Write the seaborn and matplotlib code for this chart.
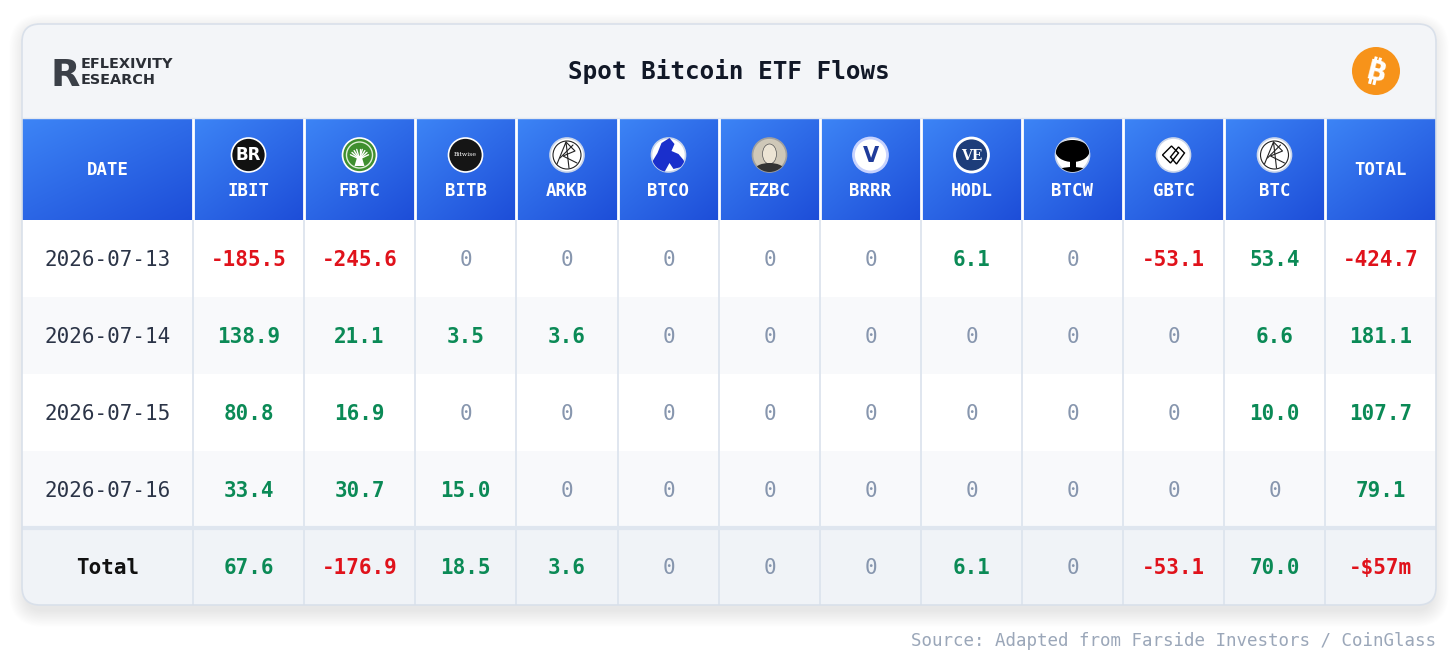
import numpy as np
import matplotlib
matplotlib.use("Agg")
import matplotlib.pyplot as plt
import seaborn as sns
from matplotlib.colors import ListedColormap, to_rgb
from matplotlib.patches import FancyBboxPatch, Circle, Rectangle, Polygon, Ellipse

# ---- data (US$ m) ----
dates = ["2026-07-13", "2026-07-14", "2026-07-15", "2026-07-16"]
tickers = ["IBIT", "FBTC", "BITB", "ARKB", "BTCO", "EZBC", "BRRR", "HODL", "BTCW", "GBTC", "BTC"]
ibit = [-185.5, 138.9, 80.8, 33.4]
fbtc = [-245.6, 21.1, 16.9, 30.7]
bitb = [0, 3.5, 0, 15.0]
arkb = [0, 3.6, 0, 0]
btco = [0, 0, 0, 0]
ezbc = [0, 0, 0, 0]
brrr = [0, 0, 0, 0]
hodl = [6.1, 0, 0, 0]
btcw = [0, 0, 0, 0]
gbtc = [-53.1, 0, 0, 0]
btc = [53.4, 6.6, 10.0, 0]
daily_total = [-424.7, 181.1, 107.7, 79.1]
ticker_total = [67.6, -176.9, 18.5, 3.6, 0, 0, 0, 6.1, 0, -53.1, 70.0]
grand_total = -57
grand_total_label = "-$57m"

title = "Spot Bitcoin ETF Flows"
source = "Source: Adapted from Farside Investors / CoinGlass"

flows = [ibit, fbtc, bitb, arkb, btco, ezbc, brrr, hodl, btcw, gbtc, btc]

# ---- layout (pixels) ----
W, H = 1456, 667
col_edges = [22, 193, 304, 415, 516, 618, 719, 820, 921, 1022, 1123, 1224, 1325, 1436]
card_x0, card_y0, card_x1, card_y1 = 22, 24, 1436, 605
head_top, head_bot = 118, 220
n_rows = len(dates) + 1
row_h = (card_y1 - head_bot) / n_rows

GREEN, RED, ZERO = "#0b8a56", "#e0121b", "#8796ae"
MONO = ["DejaVu Sans Mono", "DejaVu Sans"]

sns.set_theme(style="white")
plt.rcParams["font.family"] = MONO


def pixel_axes(ax):
    ax.set_xlim(0, W)
    ax.set_ylim(H, 0)
    ax.axis("off")


def val_style(v):
    if v == 0:
        return "0", ZERO, "normal"
    return f"{v:.1f}", (GREEN if v > 0 else RED), "bold"


def card_box(**kw):
    return FancyBboxPatch((card_x0, card_y0), card_x1 - card_x0, card_y1 - card_y0,
                          boxstyle="round,pad=0,rounding_size=18", **kw)


fig = plt.figure(figsize=(W / 100, H / 100), dpi=100)
fig.patch.set_facecolor("white")

# background: soft shadow, card, blue header band
bg = fig.add_axes([0, 0, 1, 1])
pixel_axes(bg)
for pad in np.linspace(16, 0, 24):
    bg.add_patch(FancyBboxPatch((card_x0 + 3, card_y0 + 6), card_x1 - card_x0 - 6, card_y1 - card_y0,
                                boxstyle=f"round,pad={pad},rounding_size={18 + pad}",
                                fc="#334155", ec="none", alpha=0.004))
bg.add_patch(card_box(fc="#f3f5f8", ec="none", zorder=2))

edges = np.array(col_edges)
xs = np.arange(card_x0, card_x1) + 0.5
ys = np.arange(head_top, head_bot) + 0.5
X, Y = np.meshgrid(xs, ys)
idx = np.clip(np.searchsorted(edges, X, side="right") - 1, 0, len(edges) - 2)
u = (X - edges[idx]) / (edges[idx + 1] - edges[idx])
v = (Y - head_top) / (head_bot - head_top)
t = np.clip(u * 0.45 + v * 0.55, 0, 1)
c1, c2 = np.array(to_rgb("#3d85f6")), np.array(to_rgb("#1d4dd8"))
img = c1 + (c2 - c1) * t[..., None]
bg.imshow(img, extent=(card_x0, card_x1, head_bot, head_top), origin="upper",
          aspect="auto", interpolation="bilinear", zorder=3)
pixel_axes(bg)

# table body shading via seaborn heatmap
hm = fig.add_axes([card_x0 / W, (H - card_y1) / H, (card_x1 - card_x0) / W, (card_y1 - head_bot) / H])
row_kind = np.array([[i % 2] for i in range(len(dates))] + [[2]])
sns.heatmap(row_kind, ax=hm, cmap=ListedColormap(["#ffffff", "#f8f9fb", "#f0f3f7"]),
            vmin=0, vmax=2, cbar=False, xticklabels=False, yticklabels=False)
hm.tick_params(length=0)
hm.patch.set_visible(False)
for sp in hm.spines.values():
    sp.set_visible(False)

# foreground overlay
fg = fig.add_axes([0, 0, 1, 1])
fg.patch.set_alpha(0)
pixel_axes(fg)

hm.collections[0].set_clip_path(card_box(transform=fg.transData))

# grid lines
for x in col_edges[1:-1]:
    fg.plot([x, x], [head_top, head_bot], color="white", lw=2, solid_capstyle="butt")
    fg.plot([x, x], [head_bot, card_y1], color="#dde4ee", lw=1.3, solid_capstyle="butt")
total_top = head_bot + row_h * len(dates)
fg.plot([card_x0, card_x1], [total_top, total_top], color="#dfe6ef", lw=3, solid_capstyle="butt")
fg.plot([card_x0, card_x1], [head_top, head_top], color="#e3e8f0", lw=1)
fg.add_patch(card_box(fc="none", ec="#d9e0ea", lw=1.2, zorder=6))

centers = [(col_edges[i] + col_edges[i + 1]) / 2 for i in range(len(col_edges) - 1)]
row_y = [head_bot + row_h * (i + 0.5) + 1.5 for i in range(n_rows)]

# header labels
hdr = dict(color="white", fontsize=12.5, fontweight="bold", ha="center", va="center", zorder=7)
fg.text(centers[0], 170, "DATE", **hdr)
fg.text(centers[-1], 170, "TOTAL", **hdr)
for cx, tk in zip(centers[1:-1], tickers):
    fg.text(cx, 191, tk, **hdr)


# header icons
def base(cx, cy, fc, ec="white", lw=1.2):
    c = Circle((cx, cy), 17, fc=fc, ec=ec, lw=lw, zorder=7)
    fg.add_patch(c)
    return c


def ark_lines(cx, cy):
    fg.add_patch(Circle((cx, cy), 14, fc="none", ec="#222", lw=0.8, zorder=8))
    pts = [[(cx - 10, cy + 9), (cx - 1, cy - 13), (cx + 2, cy + 13)],
           [(cx - 7, cy + 3), (cx + 6, cy - 10)],
           [(cx - 1, cy - 13), (cx + 8, cy - 4), (cx - 4, cy + 1), (cx + 10, cy + 8)]]
    for p in pts:
        p = np.array(p)
        fg.plot(p[:, 0], p[:, 1], color="#222", lw=0.8, zorder=8)


icy = 155
for cx, tk in zip(centers[1:-1], tickers):
    if tk == "IBIT":
        base(cx, icy, "#111111")
        fg.text(cx, icy + 0.5, "BR", family="DejaVu Sans", fontweight="bold", fontsize=12,
                color="white", ha="center", va="center", zorder=8)
    elif tk == "FBTC":
        base(cx, icy, "#3f8f2f")
        fg.add_patch(Circle((cx, icy), 13, fc="none", ec="#dff0d6", lw=1, zorder=8))
        for ang in np.radians(np.linspace(25, 155, 9)):
            fg.plot([cx, cx + 10 * np.cos(ang)], [icy + 4, icy + 4 - 10 * np.sin(ang)],
                    color="white", lw=1, zorder=8)
        fg.add_patch(Polygon([(cx - 2, icy + 1), (cx + 2, icy + 1), (cx + 5, icy + 11), (cx - 5, icy + 11)],
                             fc="white", ec="none", zorder=8))
    elif tk == "BITB":
        base(cx, icy, "#151515")
        fg.text(cx, icy, "Bitwise", family="DejaVu Serif", fontsize=4.5, color="white",
                ha="center", va="center", zorder=8)
    elif tk in ("ARKB", "BTC"):
        base(cx, icy, "white", ec="#c9d5ea")
        ark_lines(cx, icy)
    elif tk == "BTCO":
        c = base(cx, icy, "white", ec="#c9d5ea")
        p = Polygon([(cx - 17, icy + 8), (cx - 11, icy - 2), (cx - 7, icy - 12), (cx + 1, icy - 17),
                     (cx + 6, icy - 11), (cx + 3, icy - 4), (cx + 10, icy - 1), (cx + 15, icy + 5),
                     (cx + 17, icy + 11), (cx + 5, icy + 14), (cx + 1, icy + 8), (cx - 4, icy + 17),
                     (cx - 12, icy + 17)], fc="#1a2fcc", ec="none", zorder=8)
        fg.add_patch(p)
        p.set_clip_path(c)
    elif tk == "EZBC":
        c = base(cx, icy, "#cfc8b8", ec="#a0a0a0")
        for art in (Ellipse((cx, icy - 1), 14, 20, fc="#ece4d4", ec="#555", lw=0.5, zorder=8),
                    Ellipse((cx, icy + 14), 28, 12, fc="#333", ec="none", zorder=8)):
            fg.add_patch(art)
            art.set_clip_path(c)
    elif tk == "BRRR":
        base(cx, icy, "white", ec="#c7d2fe", lw=2)
        fg.text(cx, icy + 1, "V", family="DejaVu Sans", fontweight="bold", fontsize=15,
                color="#1f3b9a", ha="center", va="center", zorder=8)
    elif tk == "HODL":
        base(cx, icy, "#1d3d7a", lw=2)
        fg.text(cx, icy + 0.5, "VE", family="DejaVu Serif", fontweight="bold", fontsize=10,
                color="white", ha="center", va="center", zorder=8)
    elif tk == "BTCW":
        c = base(cx, icy, "white", ec="#c9d5ea")
        for art in (Ellipse((cx, icy - 4), 34, 22, fc="black", ec="none", zorder=8),
                    Rectangle((cx - 3, icy + 4), 6, 10, fc="black", ec="none", zorder=8),
                    Ellipse((cx, icy + 16), 30, 8, fc="black", ec="none", zorder=8)):
            fg.add_patch(art)
            art.set_clip_path(c)
    elif tk == "GBTC":
        base(cx, icy, "white", ec="#c9d5ea")
        for p in ([(cx - 11, icy), (cx - 2, icy - 9), (cx + 5, icy - 2), (cx - 3, icy + 8)],
                  [(cx - 3, icy + 2), (cx + 5, icy - 8), (cx + 11, icy - 2), (cx + 3, icy + 9)]):
            fg.add_patch(Polygon(p, fc="none", ec="black", lw=1, zorder=8))

# body values
for r, d in enumerate(dates):
    y = row_y[r]
    fg.text(centers[0], y, d, color="#2b3447", fontsize=15, ha="center", va="center", zorder=7)
    for c, series in enumerate(flows):
        s, col, wt = val_style(series[r])
        fg.text(centers[c + 1], y, s, color=col, fontsize=15, fontweight=wt,
                ha="center", va="center", zorder=7)
    s, col, wt = val_style(daily_total[r])
    fg.text(centers[-1], y, s, color=col, fontsize=15, fontweight=wt, ha="center", va="center", zorder=7)

y = row_y[-1]
fg.text(centers[0], y, "Total", color="#111111", fontsize=15, fontweight="bold",
        ha="center", va="center", zorder=7)
for c, tv in enumerate(ticker_total):
    s, col, wt = val_style(tv)
    fg.text(centers[c + 1], y, s, color=col, fontsize=15, fontweight=wt, ha="center", va="center", zorder=7)
fg.text(centers[-1], y, grand_total_label, color=(GREEN if grand_total > 0 else RED), fontsize=15,
        fontweight="bold", ha="center", va="center", zorder=7)

# title row
fg.text((card_x0 + card_x1) / 2, 71, title, color="#111827", fontsize=17.5, fontweight="bold",
        ha="center", va="center", zorder=7)

# logo
fg.text(51, 86, "R", family="DejaVu Sans", fontweight="bold", fontsize=27.5, color="#3b4048",
        ha="left", va="baseline", zorder=7)
fg.text(81, 68, "EFLEXIVITY", family="DejaVu Sans", fontweight="bold", fontsize=10.4,
        color="#2b2f36", ha="left", va="baseline", zorder=7)
fg.text(81, 84, "ESEARCH", family="DejaVu Sans", fontweight="bold", fontsize=10.4,
        color="#2b2f36", ha="left", va="baseline", zorder=7)

# bitcoin badge (glyph leans right)
bx, by = 1376, 71
fg.add_patch(Circle((bx, by), 24, fc="#f7931a", ec="none", zorder=7))
fg.text(bx, by + 2.5, "B", family="DejaVu Sans", fontweight="bold", fontsize=19, color="white",
        rotation=-14, ha="center", va="center", zorder=8)
ang = np.radians(14)
up = np.array([np.sin(ang), -np.cos(ang)])
rt = np.array([np.cos(ang), np.sin(ang)])
ctr = np.array([bx, by])
for a in (-3.2, 1.2):
    for sgn in (1, -1):
        p0 = ctr + rt * a + up * 8 * sgn
        p1 = ctr + rt * a + up * 14 * sgn
        fg.plot([p0[0], p1[0]], [p0[1], p1[1]], color="white", lw=2.2, zorder=8,
                solid_capstyle="butt")

# footer
fg.text(card_x1, 641, source, color="#9ba7b9", fontsize=12.6, ha="right", va="center")

fig.savefig("out.png", dpi=100, facecolor="white")
